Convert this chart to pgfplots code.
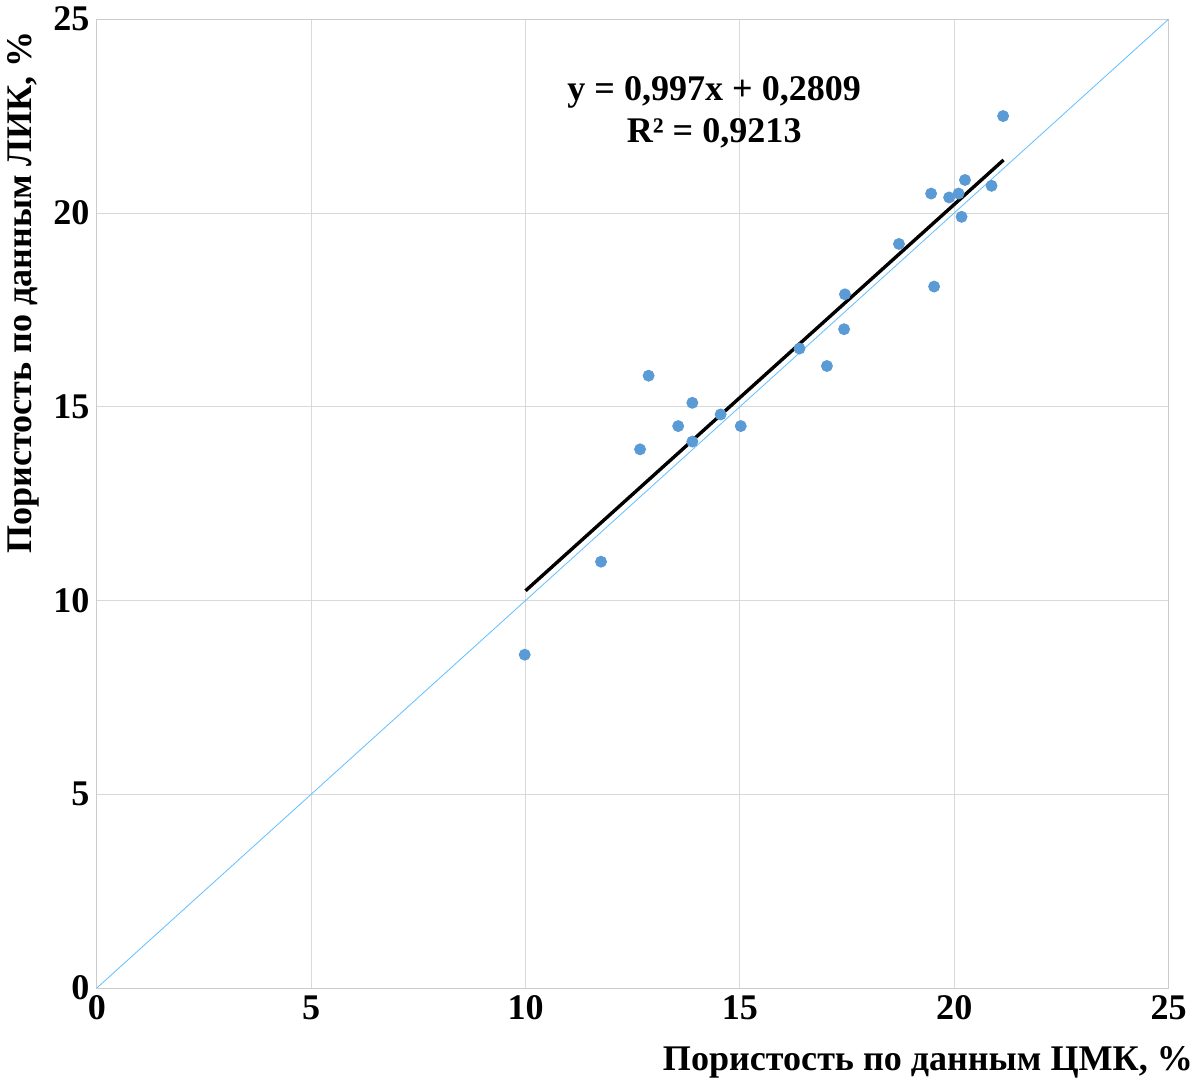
\documentclass[border=0pt]{standalone}
\usepackage{pgfplots}
\pgfplotsset{compat=1.18}
\usepackage{fontspec}
\setmainfont{Liberation Serif}
\begin{document}
\begin{tikzpicture}
\begin{axis}[
scale only axis, width=505pt, height=456.5pt,
xmin=0,xmax=25,ymin=0,ymax=25,
xtick={0,5,...,25}, ytick={0,5,...,25},
grid=major, grid style={gray!30},
axis line style={gray!40}, tick style={draw=none},
/pgf/number format/assume math mode=true,
ticklabel style={font=\fontsize{17}{19}\selectfont\bfseries},
xlabel={Пористость по данным ЦМК, \%},
ylabel={Пористость по данным ЛИК, \%},
label style={font=\fontsize{17}{19}\selectfont\bfseries},
xlabel style={at={(axis description cs:1,0)},anchor=north east,yshift=-24pt,xshift=15pt},
ylabel style={at={(ticklabel cs:1)},anchor=south east,xshift=-2pt},
]
\addplot[color=blue!40!cyan!60,thin,forget plot] coordinates {(0,0)(25,25)};
\addplot[only marks, mark=*, mark size=2.6pt, color={rgb,255:red,91;green,155;blue,213}] coordinates {
(9.98,8.6)(11.76,11.0)(12.67,13.9)(12.87,15.8)(13.56,14.5)(13.89,15.1)(13.89,14.1)
(14.55,14.8)(15.02,14.5)(16.39,16.5)(17.03,16.05)(17.43,17.0)(17.45,17.9)(18.71,19.2)
(19.46,20.5)(19.53,18.1)(19.88,20.4)(20.1,20.5)(20.17,19.9)(20.25,20.85)(20.87,20.7)(21.14,22.5)};
\addplot[black, line width=1.6pt] coordinates {(10,10.251)(21.15,21.367)};
\node[align=center,font=\fontsize{17}{20}\selectfont\bfseries] at (axis cs:14.4,22.6) {y = 0,997x + 0,2809\\R² = 0,9213};
\end{axis}
\end{tikzpicture}
\end{document}
